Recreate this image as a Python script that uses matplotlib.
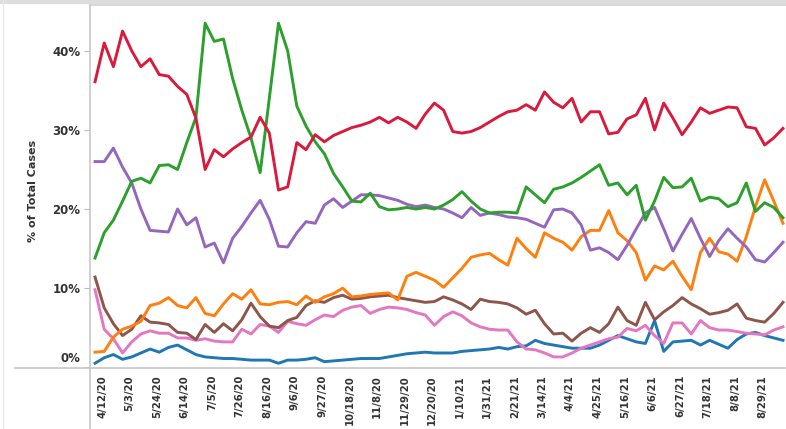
import numpy as np
import pandas as pd
import matplotlib
matplotlib.use("Agg")
import matplotlib.pyplot as plt
import matplotlib.transforms as mtransforms
from matplotlib.lines import Line2D

# weekly share of total cases (%)
weeks = pd.date_range("2020-04-12", periods=76, freq="7D")

red = [36.1, 41, 38, 42.5, 40, 38, 39, 37, 36.8, 35.5, 34.5, 31.5, 25, 27.5, 26.6, 27.6,
       28.4, 29.1, 31.6, 29.6, 22.4, 22.8, 28.4, 27.5, 29.4, 28.5, 29.3, 29.8, 30.3, 30.6,
       31, 31.6, 30.9, 31.6, 31, 30.2, 32, 33.4, 32.5, 29.8, 29.6, 29.8, 30.3, 31, 31.7,
       32.3, 32.5, 33.2, 32.5, 34.8, 33.5, 32.8, 34, 31, 32.3, 32.3, 29.5, 29.7, 31.4, 31.9,
       34, 30, 33.4, 31.5, 29.4, 31, 32.8, 32.1, 32.5, 32.9, 32.8, 30.4, 30.2, 28.1, 29, 30.2]
green = [13.8, 17, 18.6, 21, 23.5, 23.9, 23.3, 25.5, 25.6, 25, 28.4, 31.6, 43.5, 41.2, 41.5,
         36.5, 32.5, 29, 24.6, 34, 43.5, 40, 33, 30.5, 28.5, 27, 24.5, 22.8, 21, 20.9, 22,
         20.3, 19.9, 20, 20.2, 20, 20.2, 20, 20.5, 21.2, 22.2, 21, 20, 19.5, 19.6, 19.6, 19.5,
         22.8, 21.8, 20.8, 22.5, 22.8, 23.3, 24, 24.8, 25.6, 23, 23.3, 21.8, 23, 18.6, 21, 24,
         22.7, 22.8, 23.9, 21, 21.5, 21.3, 20.3, 20.8, 23.3, 19.7, 20.8, 20.2, 18.9]
purple = [26, 26, 27.7, 25.3, 23.3, 20, 17.3, 17.2, 17.1, 20, 18, 18.9, 15.2, 15.7, 13.2,
          16.3, 17.8, 19.5, 21.1, 18.7, 15.3, 15.2, 17, 18.4, 18.2, 20.5, 21.3, 20.2, 21,
          21.8, 21.8, 21.7, 21.4, 21.1, 20.6, 20.3, 20.5, 20.2, 20, 19.5, 18.9, 20.2, 19.2,
          19.5, 19.3, 19, 18.9, 18.7, 18.2, 17.7, 19.9, 20, 19.5, 18, 14.8, 15.1, 14.5, 13.6,
          15.4, 17.5, 19.5, 20.2, 17.5, 14.7, 16.8, 18.8, 16.3, 14, 16, 17.5, 16.3, 15.2,
          13.6, 13.3, 14.5, 15.8]
orange = [1.9, 2, 3.8, 4.8, 5.2, 5.8, 7.8, 8.1, 8.8, 7.8, 7.5, 8.8, 6.8, 6.5, 8, 9.3, 8.6,
          9.8, 8, 7.9, 8.2, 8.3, 7.9, 9, 8.2, 8.9, 9.3, 10, 8.9, 9, 9.2, 9.3, 9.4, 8.5, 11.5,
          12, 11.5, 11, 10.1, 11.3, 12.5, 13.9, 14.2, 14.4, 13.6, 12.9, 16.3, 15, 13.9, 17,
          16.3, 15.8, 14.8, 16.5, 17.3, 17.3, 19.8, 17, 16, 14.5, 11, 12.8, 12.3, 13.4, 11.5,
          9.8, 14.5, 16.3, 14.6, 14.3, 13.4, 16.5, 20.3, 23.7, 21, 18.2]
brown = [11.4, 7.5, 5.5, 4, 4.8, 6.5, 5.7, 5.6, 5.4, 4.4, 4.3, 3.5, 5.4, 4.4, 5.5, 4.6, 6,
         8.1, 6.4, 5.2, 5, 5.9, 6.3, 7.8, 8.4, 8.2, 8.8, 9.1, 8.6, 8.7, 8.9, 9, 9.1, 8.8, 8.6,
         8.4, 8.2, 8.3, 8.9, 8.5, 8, 7.3, 8.6, 8.3, 8.2, 8, 7.5, 6.7, 7.2, 5.5, 4.2, 4.3, 3.3,
         4.3, 5, 4.4, 5.5, 7.6, 5.9, 5.3, 8.2, 6, 7, 7.8, 8.8, 8, 7.4, 6.7, 6.9, 7.2, 8, 6.2,
         5.9, 5.7, 6.8, 8.2]
pink = [9.8, 4.8, 3.6, 1.8, 3.2, 4.2, 4.6, 4.3, 4.3, 3.7, 3.7, 3.4, 3.6, 3.3, 3.2, 3.2, 4.8,
        4.2, 5.4, 5.2, 4.4, 5.8, 5.5, 5.3, 6, 6.6, 6.4, 7.2, 7.6, 7.8, 6.8, 7.3, 7.6, 7.5,
        7.3, 6.9, 6.6, 5.3, 6.4, 7, 6.5, 5.6, 5.1, 4.8, 4.7, 4.7, 3.2, 2.3, 2.2, 1.8, 1.3,
        1.3, 1.8, 2.4, 2.8, 3.2, 3.6, 3.8, 4.9, 4.6, 5.3, 4, 3, 5.6, 5.6, 4.2, 5.9, 5, 4.7,
        4.7, 4.5, 4.3, 4.2, 4.1, 4.7, 5.1]
blue = [0.5, 1.2, 1.6, 1, 1.3, 1.8, 2.3, 1.9, 2.5, 2.8, 2.2, 1.6, 1.3, 1.2, 1.1, 1.1, 1,
        0.9, 0.9, 0.9, 0.5, 0.9, 0.9, 1, 1.2, 0.7, 0.8, 0.9, 1, 1.1, 1.1, 1.1, 1.3, 1.5, 1.7,
        1.8, 1.9, 1.8, 1.8, 1.8, 2, 2.1, 2.2, 2.3, 2.5, 2.3, 2.6, 2.7, 3.4, 3, 2.8, 2.6, 2.4,
        2.4, 2.4, 2.8, 3.4, 4, 3.6, 3.2, 3, 5.9, 2, 3.2, 3.3, 3.4, 2.8, 3.4, 2.9, 2.4, 3.5,
        4.2, 4.4, 4, 3.7, 3.4]

series = [(blue, "#1f77b4"), (pink, "#e377c2"), (brown, "#8c564b"), (orange, "#ff7f0e"),
          (purple, "#9467bd"), (green, "#2ca02c"), (red, "#d81b3c")]

yticks = [0, 10, 20, 30, 40]
tick_idx = list(range(0, 73, 3))
xlabels = [f"{weeks[i].month}/{weeks[i].day}/{weeks[i].year % 100}" for i in tick_idx]

fig = plt.figure(figsize=(7.86, 4.29), dpi=100)
ax = fig.add_axes([90 / 786, 61 / 429, 696 / 786, 363 / 429])

for vals, col in series:
    ax.plot(weeks, vals, color=col, lw=2.1, solid_joinstyle="round")

day = pd.Timedelta(days=1)
ax.set_xlim(weeks[0] - 3.85 * day, weeks[-1] + 2.3 * day)
ax.set_ylim(-0.1, 45.8)

ax.set_yticks(yticks)
ax.set_yticklabels([f"{v}%" for v in yticks])
ax.set_xticks([weeks[i] for i in tick_idx])
ax.set_xticklabels(xlabels, rotation=90)

ax.tick_params(axis="y", length=4, width=0.8, color="#bbbbbb", pad=3,
               labelsize=8.5, labelcolor="#333333")
ax.tick_params(axis="x", length=0, pad=5, labelsize=7.3, labelcolor="#333333")
for lab in ax.get_yticklabels() + ax.get_xticklabels():
    lab.set_fontweight("bold")

# nudge labels like the original
for lab in ax.get_xticklabels():
    lab.set_transform(lab.get_transform() +
                      mtransforms.ScaledTranslation(7 / 100, 0, fig.dpi_scale_trans))
zero = ax.get_yticklabels()[0]
zero.set_transform(zero.get_transform() +
                   mtransforms.ScaledTranslation(0, 10 / 100, fig.dpi_scale_trans))

for s in ["left", "bottom"]:
    ax.spines[s].set_visible(False)
ax.spines["top"].set_color("#d9d9d9")
ax.spines["top"].set_linewidth(1.5)
ax.spines["right"].set_color("#eeeeee")

# axis lines run past the plot area
fig.add_artist(Line2D([15 / 786, 1], [61 / 429, 61 / 429], color="#c8c8c8", lw=1.2))
fig.add_artist(Line2D([90 / 786, 90 / 786], [0, 424 / 429], color="#c8c8c8", lw=1.2))
fig.add_artist(Line2D([0, 1], [427 / 429, 427 / 429], color="#dddddd", lw=3))
fig.add_artist(Line2D([3 / 786, 3 / 786], [0, 1], color="#e8e8e8", lw=1))

fig.text(33 / 786, 1 - 191 / 429, "% of Total Cases", rotation=90, ha="center",
         va="center", fontsize=8, fontweight="bold", color="#333333")

fig.savefig("out.png", dpi=100)
